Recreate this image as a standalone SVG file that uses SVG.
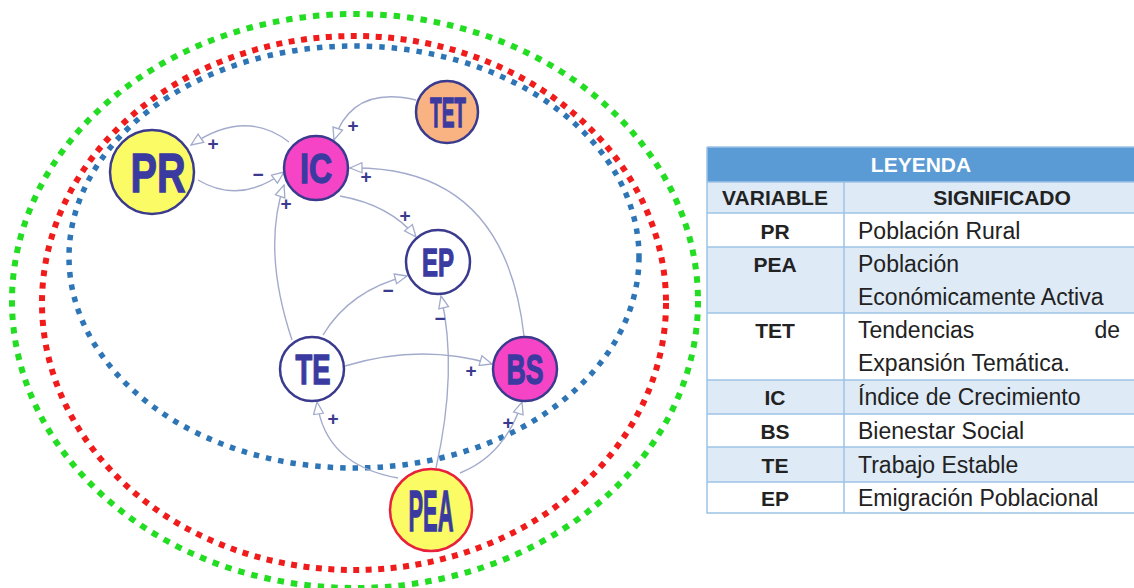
<svg xmlns="http://www.w3.org/2000/svg" width="1134" height="588" viewBox="0 0 1134 588">
<style>
.ring{fill:none;stroke-linecap:butt}
.conn{fill:none;stroke:#a3abcc;stroke-width:1.4}
.node{stroke:#3a3a8e;stroke-width:2.5}
.nt{font-family:"Liberation Sans",Arial,sans-serif;font-weight:bold;fill:#3a3aa0;stroke:#3a3aa0;stroke-width:1.3;text-anchor:middle}
.sg{font-family:"Liberation Sans",Arial,sans-serif;font-weight:bold;font-size:19px;fill:#3a3a8e;text-anchor:middle}
.th{font-family:"Liberation Sans",Arial,sans-serif;font-weight:bold;font-size:21px;fill:#222;text-anchor:middle}
.td{font-family:"Liberation Sans",Arial,sans-serif;font-size:23px;fill:#222}
.grid{stroke:#9dc3e6;stroke-width:1.5;fill:none}
</style>
<defs>
<marker id="ah" markerWidth="14" markerHeight="12" refX="13" refY="6" orient="auto" markerUnits="userSpaceOnUse">
<path d="M1,1 L13,6 L1,11 z" fill="#fff" stroke="#a3abcc" stroke-width="1.3"/>
</marker>
</defs>
<rect width="1134" height="588" fill="#fff"/>
<g id="loops">
<ellipse class="ring" cx="355" cy="301" rx="343" ry="287" stroke="#22dd22" stroke-width="6" stroke-dasharray="6.5 7"/>
<ellipse class="ring" cx="354" cy="303" rx="312" ry="267" stroke="#f01c1c" stroke-width="6" stroke-dasharray="6 6.5"/>
<ellipse class="ring" cx="354" cy="257" rx="285" ry="211" stroke="#2e75b6" stroke-width="5.5" stroke-dasharray="5.5 7"/>
</g>
<g id="connectors">
<path class="conn" d="M289,142 Q245,108 191,145" marker-end="url(#ah)"/>
<path class="conn" d="M198,180 Q240,205 284,172" marker-end="url(#ah)"/>
<path class="conn" d="M416,100 Q352,85 334,140" marker-end="url(#ah)"/>
<path class="conn" d="M524,336 Q505,165 350,168" marker-end="url(#ah)"/>
<path class="conn" d="M292,340 Q262,250 284,185" marker-end="url(#ah)"/>
<path class="conn" d="M340,196 Q390,205 416,237" marker-end="url(#ah)"/>
<path class="conn" d="M323,335 Q350,290 407,276" marker-end="url(#ah)"/>
<path class="conn" d="M436,468 Q458,370 441,296" marker-end="url(#ah)"/>
<path class="conn" d="M345,366 Q420,343 492,364" marker-end="url(#ah)"/>
<path class="conn" d="M398,478 Q325,465 317,402" marker-end="url(#ah)"/>
<path class="conn" d="M460,473 Q505,455 522,402" marker-end="url(#ah)"/>
<text class="sg" x="213" y="150">+</text>
<text class="sg" x="258" y="181">−</text>
<text class="sg" x="353" y="132">+</text>
<text class="sg" x="366" y="183">+</text>
<text class="sg" x="286" y="210">+</text>
<text class="sg" x="405" y="222">+</text>
<text class="sg" x="388" y="297">−</text>
<text class="sg" x="440" y="325">−</text>
<text class="sg" x="471" y="377">+</text>
<text class="sg" x="333" y="425">+</text>
<text class="sg" x="508" y="429">+</text>
</g>
<g id="PR"><circle class="node" cx="152" cy="172" r="42" fill="#fbfb66"/><text class="nt" x="158" y="192" font-size="56" textLength="55" lengthAdjust="spacingAndGlyphs">PR</text></g>
<g id="IC"><circle class="node" cx="316" cy="168" r="32" fill="#f545c6"/><text class="nt" x="316" y="183" font-size="42" textLength="32" lengthAdjust="spacingAndGlyphs">IC</text></g>
<g id="TET"><circle class="node" cx="447" cy="112" r="31" fill="#f9b382"/><text class="nt" x="448" y="127" font-size="42" textLength="36" lengthAdjust="spacingAndGlyphs">TET</text></g>
<g id="EP"><circle class="node" cx="438" cy="262" r="32" fill="#fff"/><text class="nt" x="438" y="275.5" font-size="38" textLength="32" lengthAdjust="spacingAndGlyphs">EP</text></g>
<g id="TE"><circle class="node" cx="312" cy="369" r="32" fill="#fff"/><text class="nt" x="313" y="384" font-size="42" textLength="35" lengthAdjust="spacingAndGlyphs">TE</text></g>
<g id="BS"><circle class="node" cx="525" cy="369" r="32" fill="#f545c6"/><text class="nt" x="525" y="384" font-size="42" textLength="37" lengthAdjust="spacingAndGlyphs">BS</text></g>
<g id="PEA"><circle cx="431" cy="510" r="41" fill="#fbfb66" stroke="#e8203c" stroke-width="2.5"/><text class="nt" x="431" y="531" font-size="58" textLength="45" lengthAdjust="spacingAndGlyphs">PEA</text></g>
<g id="legend">
<rect x="707" y="147" width="430" height="35" fill="#5b9bd5"/>
<rect x="707" y="182" width="430" height="31" fill="#deeaf6"/>
<rect x="707" y="213" width="430" height="34" fill="#fff"/>
<rect x="707" y="247" width="430" height="66" fill="#deeaf6"/>
<rect x="707" y="313" width="430" height="67" fill="#fff"/>
<rect x="707" y="380" width="430" height="34" fill="#deeaf6"/>
<rect x="707" y="414" width="430" height="33" fill="#fff"/>
<rect x="707" y="447" width="430" height="35" fill="#deeaf6"/>
<rect x="707" y="482" width="430" height="31" fill="#fff"/>
<path class="grid" d="M707,147 V513 H1137 M707,147 H1137 M707,182 H1137 M707,213 H1137 M707,247 H1137 M707,313 H1137 M707,380 H1137 M707,414 H1137 M707,447 H1137 M707,482 H1137 M844,182 V513"/>
<text class="th" x="921" y="172" style="fill:#fff">LEYENDA</text>
<text class="th" x="775" y="205">VARIABLE</text>
<text class="th" x="1002" y="205">SIGNIFICADO</text>
<text class="th" x="775" y="239">PR</text>
<text class="th" x="775" y="272">PEA</text>
<text class="th" x="775" y="338">TET</text>
<text class="th" x="775" y="405">IC</text>
<text class="th" x="775" y="439">BS</text>
<text class="th" x="775" y="473">TE</text>
<text class="th" x="775" y="506">EP</text>
<text class="td" x="858" y="239">Población Rural</text>
<text class="td" x="858" y="272">Población</text>
<text class="td" x="858" y="305">Económicamente Activa</text>
<text class="td" x="858" y="338">Tendencias</text>
<text class="td" x="1120" y="338" text-anchor="end">de</text>
<text class="td" x="858" y="371">Expansión Temática.</text>
<text class="td" x="858" y="405">Índice de Crecimiento</text>
<text class="td" x="858" y="439">Bienestar Social</text>
<text class="td" x="858" y="473">Trabajo Estable</text>
<text class="td" x="858" y="506">Emigración Poblacional</text>
</g>
</svg>
